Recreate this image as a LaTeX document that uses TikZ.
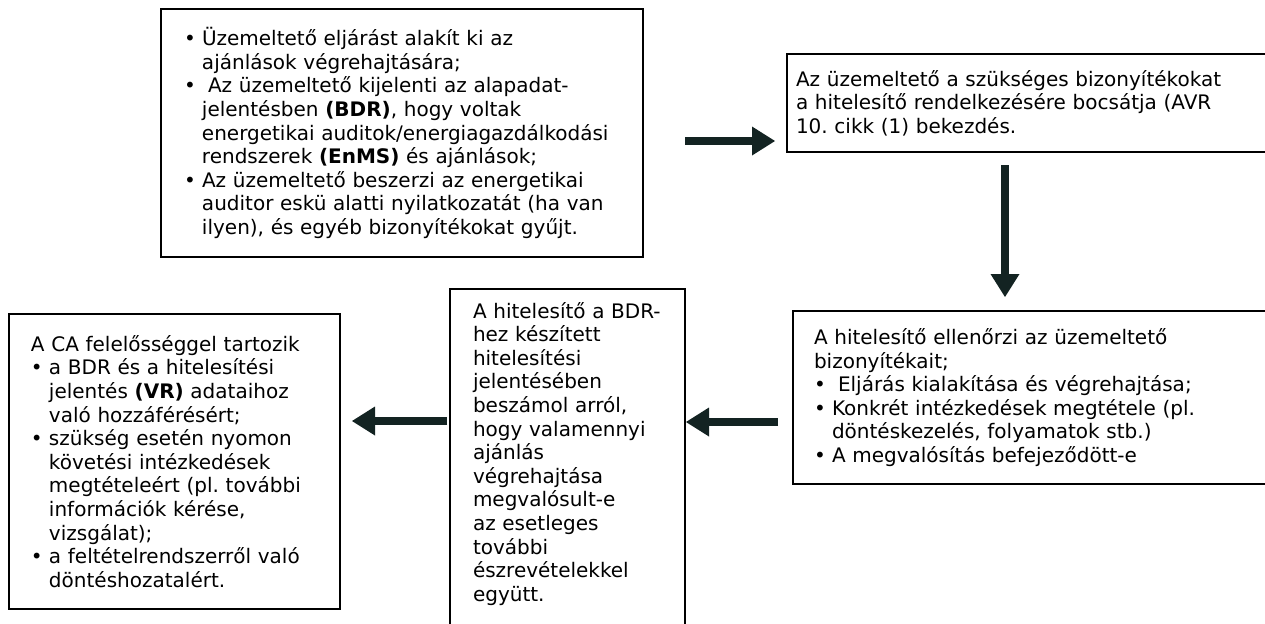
\documentclass[tikz,border=0pt]{standalone}
\usepackage{fontspec}
\setmainfont{DejaVu Sans}
\usetikzlibrary{arrows.meta}
\frenchspacing

\definecolor{arrowdark}{HTML}{132322}
\newcommand{\bl}{\makebox[9pt][l]{\textbullet}}
\newcommand{\cont}{\hspace*{9pt}}

\begin{document}
\begin{tikzpicture}[x=0.5pt, y=-0.5pt,
    box/.style={draw, line width=1pt, anchor=north west, align=left, inner xsep=0pt, inner ysep=0pt,
      font=\fontsize{10}{11.8}\selectfont},
    flow/.style={arrowdark, line width=4pt, line cap=butt,
      -{Triangle[length=11.5pt, width=14.5pt, line width=0pt]}}]

    \useasboundingbox (0,0) rectangle (1265,623);

    % top row
    \node[box, text width=241pt, minimum height=124pt] (b1) at (160,8) {\leftskip=11.5pt
      \bl Üzemeltető eljárást alakít ki az\\
      \cont ajánlások végrehajtására;\\
      \bl\hspace*{3pt}Az üzemeltető kijelenti az alapadat-\\
      \cont jelentésben \textbf{(BDR)}, hogy voltak\\
      \cont energetikai auditok/energiagazdálkodási\\
      \cont rendszerek \textbf{(EnMS)} és ajánlások;\\
      \bl Az üzemeltető beszerzi az energetikai\\
      \cont auditor eskü alatti nyilatkozatát (ha van\\
      \cont ilyen), és egyéb bizonyítékokat gyűjt.\par};

    \node[box, text width=244.5pt, minimum height=49pt] (b2) at (786,53) {\leftskip=4.5pt
      Az üzemeltető a szükséges bizonyítékokat\\
      a hitelesítő rendelkezésére bocsátja (AVR\\
      10. cikk (1) bekezdés.\par};

    % bottom row
    \node[box, text width=241.5pt, minimum height=86.5pt] (b3) at (792,310) {\leftskip=10.5pt
      A hitelesítő ellenőrzi az üzemeltető\\
      bizonyítékait;\\
      \bl\hspace*{3pt}Eljárás kialakítása és végrehajtása;\\
      \bl Konkrét intézkedések megtétele (pl.\\
      \cont döntéskezelés, folyamatok stb.)\\
      \bl A megvalósítás befejeződött-e\par};

    \node[box, text width=117.5pt, inner ysep=6.5pt] (b4) at (449,288) {\leftskip=11.5pt
      A hitelesítő a BDR-\\
      hez készített\\
      hitelesítési\\
      jelentésében\\
      beszámol arról,\\
      hogy valamennyi\\
      ajánlás\\
      végrehajtása\\
      megvalósult-e\\
      az esetleges\\
      további\\
      észrevételekkel\\
      együtt.\par\vspace*{6pt}\mbox{}\par};

    \node[box, text width=165.5pt, minimum height=147.5pt] (b5) at (8,313) {\leftskip=11pt
      A CA felelősséggel tartozik\\
      \bl a BDR és a hitelesítési\\
      \cont jelentés \textbf{(VR)} adataihoz\\
      \cont való hozzáférésért;\\
      \bl szükség esetén nyomon\\
      \cont követési intézkedések\\
      \cont megtételeért (pl. további\\
      \cont információk kérése,\\
      \cont vizsgálat);\\
      \bl a feltételrendszerről való\\
      \cont döntéshozatalért.\par};

    % arrows
    \draw[flow, shorten <=20.5pt, shorten >=5.5pt] ([yshift=-4pt]b1.east) -- ([yshift=-4pt]b1.east -| b2.west);
    \draw[flow, shorten <=6pt, shorten >=6.5pt] ([xshift=109.5pt]b2.south west) -- ([xshift=109.5pt]b2.south west |- b3.north);
    \draw[flow, shorten <=7pt] ([yshift=-12.25pt]b3.west) -- ([yshift=-12.25pt]b3.west -| b4.east);
    \draw[flow, shorten <=1pt, shorten >=5.5pt] ([yshift=-66.5pt]b4.north west) -- ([yshift=-66.5pt]b4.north west -| b5.east);

\end{tikzpicture}
\end{document}
